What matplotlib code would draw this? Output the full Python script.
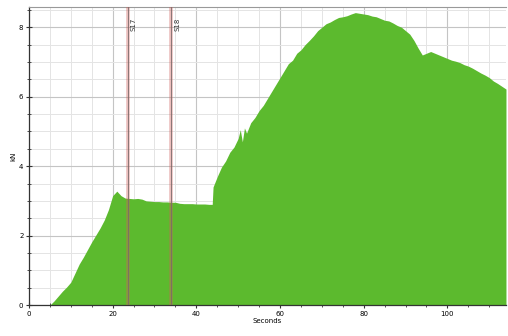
import numpy as np
import matplotlib
matplotlib.use("Agg")
import matplotlib.pyplot as plt
from matplotlib.ticker import MultipleLocator

# ─── data ───────────────────────────────────────────────────────────────────
seconds = [0, 5, 6, 7, 8, 9, 10, 11, 12, 13, 14, 15, 16, 17, 18, 19, 20, 21,
           22, 23, 24, 25, 26, 27, 28, 29, 30, 31, 32, 33, 34, 35, 36, 37, 38,
           39, 40, 41, 42, 43, 43.8, 44, 45, 46, 47, 48, 49, 50, 50.5, 51,
           51.5, 52, 53, 54, 55, 56, 57, 58, 59, 60, 61, 62, 63, 64, 65, 66,
           67, 68, 69, 70, 71, 72, 73, 74, 75, 76, 77, 78, 79, 80, 81, 82, 83,
           84, 85, 86, 87, 88, 89, 90, 91, 92, 93, 94, 95, 96, 97, 98, 99, 100,
           101, 102, 103, 104, 105, 106, 107, 108, 109, 110, 111, 112, 113, 114]
force_kn = [0, 0, 0.12, 0.26, 0.4, 0.52, 0.66, 0.92, 1.18, 1.38, 1.6, 1.82,
            2.02, 2.22, 2.45, 2.75, 3.15, 3.28, 3.15, 3.08, 3.07, 3.06, 3.07,
            3.05, 3.0, 2.99, 2.98, 2.98, 2.97, 2.97, 2.96, 2.96, 2.93, 2.92,
            2.92, 2.92, 2.91, 2.91, 2.91, 2.9, 2.9, 3.4, 3.7, 3.97, 4.15, 4.4,
            4.55, 4.8, 5.05, 4.7, 5.1, 4.95, 5.25, 5.4, 5.6, 5.75, 5.95, 6.15,
            6.35, 6.55, 6.75, 6.95, 7.05, 7.25, 7.35, 7.5, 7.62, 7.75, 7.9,
            8.0, 8.1, 8.15, 8.22, 8.28, 8.3, 8.33, 8.38, 8.42, 8.4, 8.38, 8.36,
            8.32, 8.3, 8.25, 8.2, 8.18, 8.12, 8.05, 8.0, 7.9, 7.8, 7.62, 7.4,
            7.2, 7.25, 7.3, 7.25, 7.2, 7.15, 7.1, 7.05, 7.02, 6.98, 6.92, 6.88,
            6.82, 6.75, 6.68, 6.62, 6.55, 6.45, 6.38, 6.3, 6.22]
marker_pos = [23.6, 34.0]
marker_names = ["S17", "S18"]

GREEN = "#5cba2e"

fig = plt.figure(figsize=(5.08, 3.36), dpi=100)
ax = fig.add_axes([0.057, 0.092, 0.939, 0.887])

ax.fill_between(seconds, force_kn, 0, color=GREEN, lw=0, zorder=2)

for pos, name in zip(marker_pos, marker_names):
    ax.axvline(pos, color="#d0605a", alpha=0.4, lw=2.6, zorder=3)
    ax.axvline(pos, color="#7a6a6a", lw=0.6, zorder=3)
    ax.text(pos + 1.4, 8.28, name, rotation=90, fontsize=5, color="#333",
            ha="center", va="top", zorder=4)

ax.set_xlim(0, 114)
ax.set_ylim(0, 8.58)
ax.xaxis.set_major_locator(MultipleLocator(20))
ax.xaxis.set_minor_locator(MultipleLocator(5))
ax.yaxis.set_major_locator(MultipleLocator(2))
ax.yaxis.set_minor_locator(MultipleLocator(0.5))
ax.grid(which="minor", color="#e4e4e4", lw=0.7, zorder=0)
ax.grid(which="major", color="#c4c4c4", lw=0.8, zorder=1)
ax.set_axisbelow(True)

ax.tick_params(which="both", direction="inout", labelsize=5, color="#333",
               pad=2)
ax.tick_params(which="major", length=4, width=0.8)
ax.tick_params(which="minor", length=3, width=0.6)

for side in ["left", "bottom"]:
    ax.spines[side].set_color("#333")
    ax.spines[side].set_linewidth(0.9)
ax.spines["top"].set_color("#999")
ax.spines["right"].set_visible(False)

ax.set_xlabel("Seconds", fontsize=5, labelpad=1)
ax.set_ylabel("kN", fontsize=5, labelpad=2)

fig.savefig("out.png", dpi=100)
